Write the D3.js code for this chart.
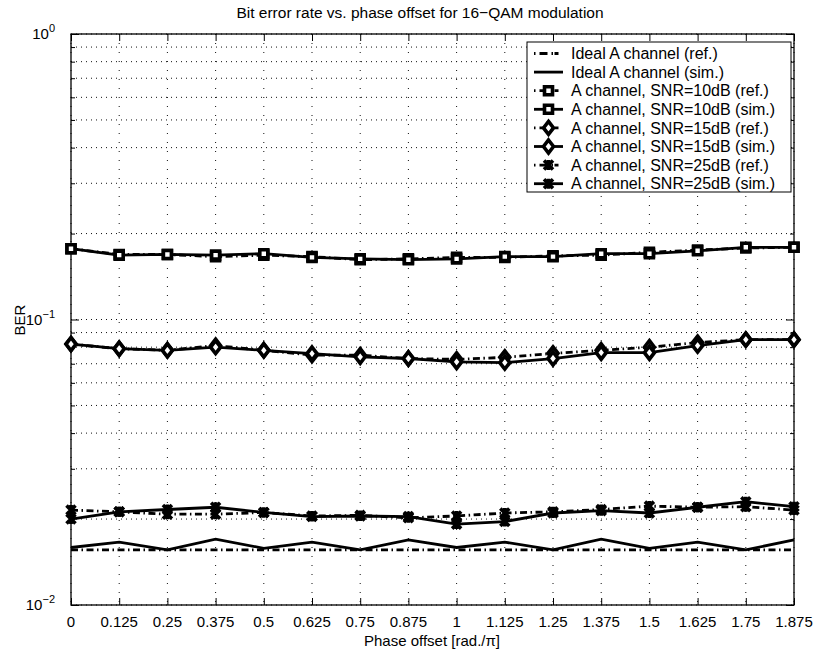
<!DOCTYPE html>
<html>
<head>
<meta charset="utf-8">
<script src="https://cdn.jsdelivr.net/npm/d3@7"></script>
<style>
  body { margin: 0; background: #fff; }
  svg { font-family: "Liberation Sans", Arial, sans-serif; }
</style>
</head>
<body>
<svg id="canvas"></svg>
<script>
const phaseOffsets = [0, 0.125, 0.25, 0.375, 0.5, 0.625, 0.75, 0.875, 1, 1.125, 1.25, 1.375, 1.5, 1.625, 1.75, 1.875]
const xTickLabels = ["0", "0.125", "0.25", "0.375", "0.5", "0.625", "0.75", "0.875", "1", "1.125", "1.25", "1.375", "1.5", "1.625", "1.75", "1.875"]
const yDecades = [0.01, 0.1, 1]
const yDecadeExp = ["−2", "−1", "0"]

const idealRef = [0.0156, 0.0156, 0.0156, 0.0156, 0.0156, 0.0156, 0.0156, 0.0156, 0.0156, 0.0156, 0.0156, 0.0156, 0.0156, 0.0156, 0.0156, 0.0156]
const idealSim = [0.0159, 0.0166, 0.0156, 0.0170, 0.0158, 0.0166, 0.0156, 0.0169, 0.0159, 0.0166, 0.0156, 0.0170, 0.0158, 0.0166, 0.0156, 0.0169]
const snr10Ref = [0.177, 0.169, 0.169, 0.166, 0.168, 0.166, 0.162, 0.163, 0.165, 0.165, 0.167, 0.168, 0.172, 0.175, 0.178, 0.179]
const snr10Sim = [0.177, 0.168, 0.169, 0.168, 0.170, 0.165, 0.163, 0.162, 0.163, 0.166, 0.166, 0.170, 0.170, 0.174, 0.179, 0.179]
const snr15Ref = [0.082, 0.079, 0.078, 0.081, 0.078, 0.075, 0.075, 0.073, 0.0725, 0.0737, 0.0761, 0.078, 0.080, 0.083, 0.085, 0.085]
const snr15Sim = [0.082, 0.079, 0.078, 0.080, 0.078, 0.076, 0.074, 0.073, 0.071, 0.0706, 0.073, 0.0765, 0.0765, 0.081, 0.085, 0.085]
const snr25Ref = [0.0215, 0.0212, 0.0208, 0.0208, 0.0211, 0.0205, 0.0206, 0.0202, 0.0205, 0.0210, 0.0212, 0.0216, 0.0222, 0.0220, 0.0221, 0.0215]
const snr25Sim = [0.0200, 0.0212, 0.0216, 0.0220, 0.0211, 0.0204, 0.0205, 0.0204, 0.0192, 0.0196, 0.0210, 0.0214, 0.0210, 0.0220, 0.0230, 0.0221]

const legendLabels = [
  "Ideal A channel (ref.)",
  "Ideal A channel (sim.)",
  "A channel, SNR=10dB (ref.)",
  "A channel, SNR=10dB (sim.)",
  "A channel, SNR=15dB (ref.)",
  "A channel, SNR=15dB (sim.)",
  "A channel, SNR=25dB (ref.)",
  "A channel, SNR=25dB (sim.)"
]

const series = [
  { values: idealRef, dash: true, marker: null },
  { values: idealSim, dash: false, marker: null },
  { values: snr10Ref, dash: true, marker: "square" },
  { values: snr10Sim, dash: false, marker: "square" },
  { values: snr15Ref, dash: true, marker: "diamond" },
  { values: snr15Sim, dash: false, marker: "diamond" },
  { values: snr25Ref, dash: true, marker: "cross" },
  { values: snr25Sim, dash: false, marker: "cross" }
]

const width = 817
const height = 653
const plotLeft = 71
const plotRight = 794
const plotTop = 34
const plotBottom = 605
const dashPattern = "7,3.5,1.5,3.5"

const canvas = d3.select("#canvas").attr("width", width).attr("height", height)

const xScale = d3.scaleLinear().domain([0, 1.875]).range([plotLeft, plotRight])
const yScale = d3.scaleLog().domain([0.01, 1]).range([plotBottom, plotTop])

// minor log ticks 2..9 of each decade
const minorTicks = []
yDecades.slice(0, 2).forEach(d => {
  for (let k = 2; k <= 9; k++) minorTicks.push(d * k)
})
const allYTicks = yDecades.concat(minorTicks)

// grid
const grid = canvas.append("g")
grid.selectAll(".hgrid")
  .data(allYTicks)
  .enter()
  .append("line")
  .attr("x1", plotLeft).attr("x2", plotRight)
  .attr("y1", d => yScale(d)).attr("y2", d => yScale(d))
  .attr("stroke", "#111").attr("stroke-width", 1)
  .attr("stroke-dasharray", "1,4")
grid.selectAll(".vgrid")
  .data(phaseOffsets)
  .enter()
  .append("line")
  .attr("x1", d => xScale(d)).attr("x2", d => xScale(d))
  .attr("y1", plotTop).attr("y2", plotBottom)
  .attr("stroke", "#111").attr("stroke-width", 1)
  .attr("stroke-dasharray", "1,8")

// axes: inward ticks on all four sides
const xAxisBottom = d3.axisTop(xScale).tickValues(phaseOffsets).tickSize(7).tickFormat("")
const xAxisTop = d3.axisBottom(xScale).tickValues(phaseOffsets).tickSize(7).tickFormat("")
const yAxisLeft = d3.axisRight(yScale).tickValues(yDecades).tickSize(8).tickFormat("")
const yAxisRight = d3.axisLeft(yScale).tickValues(yDecades).tickSize(8).tickFormat("")
const yMinorLeft = d3.axisRight(yScale).tickValues(minorTicks).tickSize(4).tickFormat("")
const yMinorRight = d3.axisLeft(yScale).tickValues(minorTicks).tickSize(4).tickFormat("")

const axes = [
  [xAxisBottom, `translate(0,${plotBottom})`],
  [xAxisTop, `translate(0,${plotTop})`],
  [yAxisLeft, `translate(${plotLeft},0)`],
  [yAxisRight, `translate(${plotRight},0)`],
  [yMinorLeft, `translate(${plotLeft},0)`],
  [yMinorRight, `translate(${plotRight},0)`]
]
axes.forEach(([ax, tr]) => {
  const g = canvas.append("g").attr("transform", tr).call(ax)
  g.select(".domain").remove()
  g.selectAll("line").attr("stroke", "#000").attr("stroke-width", 1)
})

canvas.append("rect")
  .attr("x", plotLeft).attr("y", plotTop)
  .attr("width", plotRight - plotLeft).attr("height", plotBottom - plotTop)
  .attr("fill", "none").attr("stroke", "#000").attr("stroke-width", 1.3)

// tick labels
canvas.append("g").selectAll("text")
  .data(phaseOffsets)
  .enter()
  .append("text")
  .attr("x", d => xScale(d))
  .attr("y", 627)
  .attr("text-anchor", "middle")
  .attr("font-size", 15)
  .text((d, i) => xTickLabels[i])

const yLabels = canvas.append("g").selectAll("text")
  .data(yDecades)
  .enter()
  .append("text")
  .attr("x", 55)
  .attr("y", d => yScale(d) + 5)
  .attr("text-anchor", "end")
  .attr("font-size", 15)
yLabels.append("tspan").text("10")
yLabels.append("tspan")
  .attr("dy", -7)
  .attr("font-size", 11)
  .text((d, i) => yDecadeExp[i])

// titles
canvas.append("text")
  .attr("x", 420).attr("y", 18)
  .attr("text-anchor", "middle")
  .attr("font-size", 15.5)
  .text("Bit error rate vs. phase offset for 16−QAM modulation")

canvas.append("text")
  .attr("x", 432).attr("y", 646)
  .attr("text-anchor", "middle")
  .attr("font-size", 15)
  .text("Phase offset [rad./π]")

canvas.append("text")
  .attr("transform", "translate(25,320) rotate(-90)")
  .attr("text-anchor", "middle")
  .attr("font-size", 15)
  .text("BER")

// marker shapes
const markerPath = (type) => {
  if (type === "square") return "M-4,-4H4V4H-4Z"
  if (type === "diamond") return "M0,-6.5L5,0L0,6.5L-5,0Z"
  if (type === "cross") return "M-4.5,-4.5L4.5,4.5M-4.5,4.5L4.5,-4.5M0,-5V5"
  return null
}

const drawMarker = (g, type, x, y) => {
  if (!type) return
  g.append("path")
    .attr("d", markerPath(type))
    .attr("transform", `translate(${x},${y})`)
    .attr("fill", type === "cross" ? "none" : "#fff")
    .attr("stroke", "#000")
    .attr("stroke-width", 3.6)
}

const line = d3.line()
  .x((d, i) => xScale(phaseOffsets[i]))
  .y(d => yScale(d))

const plot = canvas.append("g")
series.forEach(s => {
  plot.append("path")
    .datum(s.values)
    .attr("d", line)
    .attr("fill", "none")
    .attr("stroke", "#000")
    .attr("stroke-width", 2.8)
    .attr("stroke-dasharray", s.dash ? dashPattern : null)
  s.values.forEach((v, i) => drawMarker(plot, s.marker, xScale(phaseOffsets[i]), yScale(v)))
})

// legend
const legend = canvas.append("g")
legend.append("rect")
  .attr("x", 527).attr("y", 42)
  .attr("width", 264).attr("height", 150)
  .attr("fill", "#fff").attr("stroke", "#000").attr("stroke-width", 1)

legendLabels.forEach((label, i) => {
  const y = 53.5 + i * 18.6
  legend.append("line")
    .attr("x1", 534).attr("x2", 563)
    .attr("y1", y).attr("y2", y)
    .attr("stroke", "#000").attr("stroke-width", 2.8)
    .attr("stroke-dasharray", series[i].dash ? "1.5,4,8,4,1.5" : null)
  drawMarker(legend, series[i].marker, 548.5, y)
  legend.append("text")
    .attr("x", 571).attr("y", y + 5.6)
    .attr("font-size", 16)
    .text(label)
})
</script>
</body>
</html>
